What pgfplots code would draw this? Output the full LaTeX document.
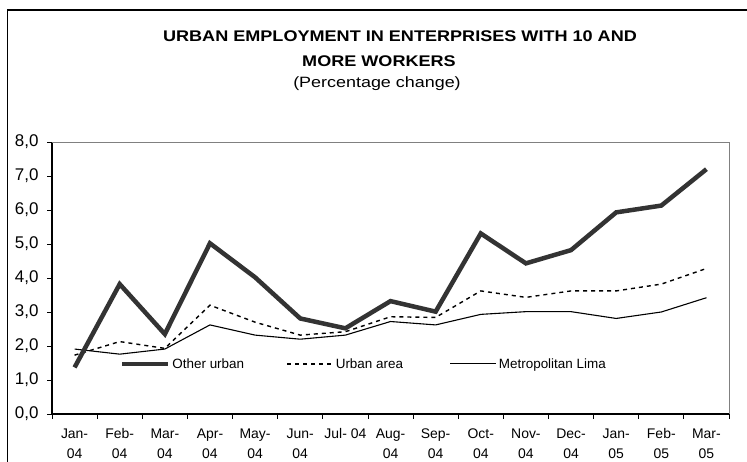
\documentclass[border=0pt]{standalone}
\usepackage{pgfplots}
\pgfplotsset{compat=1.18}
\usepackage{fontspec}
\setmainfont{Liberation Sans}
\begin{document}
\begin{tikzpicture}[x=1bp,y=1bp]
\path[use as bounding box] (0,0) rectangle (747,462);
\draw[line width=1.2bp] (7.5,0) -- (7.5,452) -- (747,452);
\node[font=\fontsize{15.5}{17}\selectfont\bfseries, xscale=1.17, anchor=base] at (400,420) {URBAN EMPLOYMENT IN ENTERPRISES WITH 10 AND};
\node[font=\fontsize{15.5}{17}\selectfont\bfseries, xscale=1.17, anchor=base] at (379,395) {MORE WORKERS};
\node[font=\fontsize{15}{17}\selectfont, xscale=1.2, anchor=base] at (377,374) {(Percentage change)};
\begin{axis}[
  at={(52bp,48bp)}, anchor=south west,
  scale only axis, width=677bp, height=272bp,
  xmin=0.5, xmax=15.5, ymin=0, ymax=8,
  axis x line*=bottom, axis y line*=left,
  axis line style={black, line width=1.3bp},
  tick align=outside,
  major tick length=5bp,
  tick style={black, line width=0.8bp},
  ytick={0,1,...,8},
  yticklabel style={font=\fontsize{17}{18}\selectfont, xshift=-5bp},
  /pgf/number format/.cd, fixed, fixed zerofill, precision=1, use comma, assume math mode=true,
  /pgfplots/.cd,
  xtick={0.5,1.5,...,15.5},
  xticklabels={},
  extra x ticks={1,2,...,15},
  extra x tick labels={{\strut Jan-\\04},{\strut Feb-\\04},{\strut Mar-\\04},{\strut Apr-\\04},{\strut May-\\04},{\strut Jun-\\04},{\strut Jul- 04},{\strut Aug-\\04},{\strut Sep-\\04},{\strut Oct-\\04},{\strut Nov-\\04},{\strut Dec-\\04},{\strut Jan-\\05},{\strut Feb-\\05},{\strut Mar-\\05}},
  extra x tick style={major tick length=0pt, xticklabel style={align=center, anchor=north, yshift=-7bp, font=\fontsize{14}{20}\selectfont}},
  legend columns=3,
  reverse legend,
  legend style={at={(rel axis cs:0.1,0.184)}, anchor=west, draw=none, fill=white, inner sep=0pt,
    font=\fontsize{13.5}{16}\selectfont,
    nodes={inner sep=2bp},
    column sep=0pt},
  legend image code/.code={\draw[#1] (0bp,0bp) -- (46bp,0bp);},
  clip=false,
]
\draw[gray, line width=0.8bp] (rel axis cs:0,1) -- (rel axis cs:1,1) -- (rel axis cs:1,0);
\addplot[black, line width=1.1bp] coordinates {
(1,1.91) (2,1.76) (3,1.91) (4,2.62) (5,2.32) (6,2.2) (7,2.32) (8,2.72) (9,2.62) (10,2.93) (11,3.01) (12,3.01) (13,2.81) (14,3.0) (15,3.42)};
\addlegendentry{\makebox[112bp][l]{Metropolitan Lima}}
\addplot[black, line width=1.4bp, dash pattern=on 4bp off 4bp] coordinates {
(1,1.73) (2,2.13) (3,1.93) (4,3.2) (5,2.7) (6,2.32) (7,2.42) (8,2.86) (9,2.84) (10,3.62) (11,3.43) (12,3.62) (13,3.62) (14,3.82) (15,4.28)};
\addlegendentry{\makebox[112bp][l]{Urban area}}
\addplot[black!80, line width=4.5bp] coordinates {
(1,1.37) (2,3.82) (3,2.35) (4,5.02) (5,4.02) (6,2.81) (7,2.52) (8,3.32) (9,3.01) (10,5.31) (11,4.43) (12,4.82) (13,5.93) (14,6.13) (15,7.2)};
\addlegendentry{\makebox[112bp][l]{Other urban}}
\end{axis}
\end{tikzpicture}
\end{document}
